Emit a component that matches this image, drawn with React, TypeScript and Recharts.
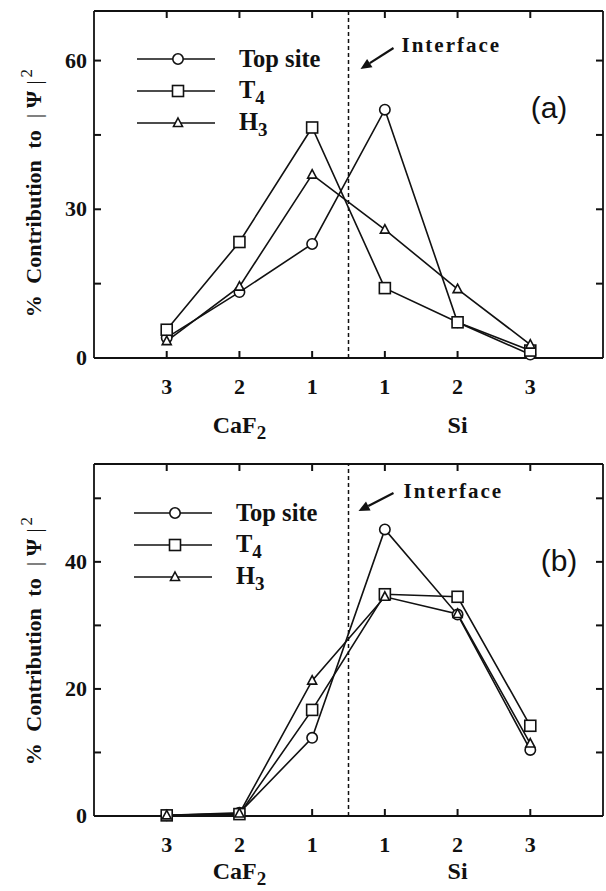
import React from 'react';
import { LineChart, Line, XAxis, YAxis, ReferenceLine, Legend } from 'recharts';

// layer positions along the slab, CaF2 side then Si side
const positions = [0, 1, 2, 3, 4, 5];
const layerLabels = ['3', '2', '1', '1', '2', '3'];
const groupLabels = [
  { at: 1, base: 'CaF', sub: '2' },
  { at: 4, base: 'Si', sub: '' },
];
const interfacePos = 2.5;
const xDomain = [-1, 6];

// panel (a)
const topSiteA = [4.1, 13.3, 23.0, 50.1, 7.2, 0.7];
const t4A = [5.7, 23.4, 46.5, 14.1, 7.2, 1.5];
const h3A = [3.4, 14.4, 37.0, 25.9, 13.9, 2.7];
const yTicksA = [0, 15, 30, 45, 60];
const yLabelsA = [0, 30, 60];

// panel (b)
const topSiteB = [0.1, 0.5, 12.3, 45.1, 31.7, 10.4];
const t4B = [0.1, 0.3, 16.7, 34.9, 34.5, 14.2];
const h3B = [0.1, 0.4, 21.3, 34.5, 31.8, 11.4];
const yTicksB = [0, 10, 20, 30, 40, 50];
const yLabelsB = [0, 20, 40];

const series = [
  { key: 'top', base: 'Top site', sub: '', shape: 'circle' },
  { key: 't4', base: 'T', sub: '4', shape: 'square' },
  { key: 'h3', base: 'H', sub: '3', shape: 'triangle' },
];

const SERIF = '"Liberation Serif", "Times New Roman", serif';
const INK = '#111';
const W = 606;
const LEFT_W = 94;
const RIGHT_W = 3;
const TICK_PX = 7;

function buildRows(top: number[], t4: number[], h3: number[]) {
  return positions.map((pos, i) => ({ pos, top: top[i], t4: t4[i], h3: h3[i] }));
}

function Marker({ shape, cx, cy }: { shape: string; cx: number; cy: number }) {
  if (cx == null || cy == null) return <g />;
  if (shape === 'circle')
    return <circle cx={cx} cy={cy} r={5.2} fill="#fff" stroke={INK} strokeWidth={1.6} />;
  if (shape === 'square')
    return <rect x={cx - 5.5} y={cy - 5.5} width={11} height={11} fill="#fff" stroke={INK} strokeWidth={1.6} />;
  return (
    <polygon
      points={`${cx},${cy - 5} ${cx + 4.5},${cy + 3.5} ${cx - 4.5},${cy + 3.5}`}
      fill="#fff"
      stroke={INK}
      strokeWidth={1.6}
    />
  );
}

function LeftTick(props: any) {
  const { x, y, payload, labels } = props;
  if (!labels.includes(payload.value)) return <g />;
  return (
    <text x={x - 7} y={y + 7} textAnchor="end" fontFamily={SERIF} fontWeight="bold" fontSize={22} fill={INK}>
      {payload.value}
    </text>
  );
}

function BottomTick(props: any) {
  const { x, y, payload, groupDy } = props;
  const i = payload.value;
  const group = groupLabels.find((g) => g.at === i);
  return (
    <g>
      <text x={x} y={y + 36} textAnchor="middle" fontFamily={SERIF} fontWeight="bold" fontSize={22} fill={INK}>
        {layerLabels[i]}
      </text>
      {group && (
        <text x={x} y={y + groupDy} textAnchor="middle" fontFamily={SERIF} fontWeight="bold" fontSize={24} fill={INK}>
          {group.base}
          {group.sub && (
            <tspan dy={6} fontSize={19}>
              {group.sub}
            </tspan>
          )}
        </text>
      )}
    </g>
  );
}

function YLabel({ cy }: { cy: number }) {
  return (
    <text
      transform={`rotate(-90 41 ${cy})`}
      x={41}
      y={cy}
      textAnchor="middle"
      fontFamily={SERIF}
      fontWeight="bold"
      fontSize={22}
      fill={INK}
      style={{ wordSpacing: 6 }}
    >
      <tspan>% Contribution to</tspan>
      <tspan dx={12} fontWeight="normal">|</tspan>
      <tspan dx={6}>Ψ</tspan>
      <tspan dx={6} fontWeight="normal">|</tspan>
      <tspan dx={3} dy={-9} fontSize={17} fontWeight="normal">2</tspan>
    </text>
  );
}

function InterfaceMark(props: any) {
  const { viewBox, arrow } = props;
  if (!viewBox) return null;
  const { x, y } = viewBox;
  const [tx, ty] = [x + arrow.tip[0], y + arrow.tip[1]];
  const [sx, sy] = [x + arrow.tail[0], y + arrow.tail[1]];
  const ang = Math.atan2(ty - sy, tx - sx);
  const hl = 11;
  const hw = 5;
  const bx = tx - hl * Math.cos(ang);
  const by = ty - hl * Math.sin(ang);
  const px = -Math.sin(ang) * hw;
  const py = Math.cos(ang) * hw;
  return (
    <g>
      <line x1={sx} y1={sy} x2={bx} y2={by} stroke={INK} strokeWidth={2.2} />
      <polygon points={`${tx},${ty} ${bx + px},${by + py} ${bx - px},${by - py}`} fill={INK} />
      <text
        x={x + arrow.text[0]}
        y={y + arrow.text[1]}
        fontFamily={SERIF}
        fontWeight="bold"
        fontSize={21}
        letterSpacing={2}
        fill={INK}
      >
        Interface
      </text>
    </g>
  );
}

function LegendBox() {
  return (
    <div style={{ fontFamily: SERIF, fontWeight: 'bold', color: INK }}>
      {series.map((s) => (
        <div key={s.key} style={{ display: 'flex', alignItems: 'center', height: 32 }}>
          <svg width={78} height={32} style={{ display: 'block' }}>
            <line x1={0} y1={16} x2={78} y2={16} stroke={INK} strokeWidth={1.6} />
            <Marker shape={s.shape} cx={41} cy={16} />
          </svg>
          <span style={{ marginLeft: 24, fontSize: 24.5, lineHeight: '32px', whiteSpace: 'nowrap' }}>
            {s.base}
            {s.sub && <span style={{ fontSize: 19, position: 'relative', top: 6 }}>{s.sub}</span>}
          </span>
        </div>
      ))}
    </div>
  );
}

interface PanelProps {
  rows: any[];
  yMax: number;
  yTicks: number[];
  yLabels: number[];
  height: number;
  plotTop: number;
  xAxisHeight: number;
  groupDy: number;
  legendLeft: number;
  legendTop: number;
  arrow: { tail: number[]; tip: number[]; text: number[] };
  tag: string;
  tagX: number;
  tagY: number;
  yLabelCy: number;
}

function Panel(p: PanelProps) {
  // inward tick marks as short reference segments (length given in px, converted to data units)
  const dx = (TICK_PX * (xDomain[1] - xDomain[0])) / (W - LEFT_W - RIGHT_W);
  const dy = (TICK_PX * p.yMax) / (p.height - p.plotTop - p.xAxisHeight);
  const tickSegs: any[] = [];
  p.yTicks.forEach((v) => {
    tickSegs.push([{ x: xDomain[0], y: v }, { x: xDomain[0] + dx, y: v }]);
    tickSegs.push([{ x: xDomain[1] - dx, y: v }, { x: xDomain[1], y: v }]);
  });
  positions.forEach((pos) => {
    tickSegs.push([{ x: pos, y: 0 }, { x: pos, y: dy }]);
    tickSegs.push([{ x: pos, y: p.yMax - dy }, { x: pos, y: p.yMax }]);
  });

  return (
    <div style={{ position: 'relative', width: W, height: p.height }}>
      <LineChart width={W} height={p.height} data={p.rows} margin={{ top: 0, right: 0, bottom: 0, left: 0 }}>
        <XAxis
          xAxisId="b"
          dataKey="pos"
          type="number"
          domain={xDomain}
          ticks={positions}
          interval={0}
          height={p.xAxisHeight}
          stroke={INK}
          strokeWidth={1.8}
          tickLine={false}
          tickSize={0}
          tickMargin={0}
          tick={(tp: any) => <BottomTick {...tp} groupDy={p.groupDy} />}
        />
        <XAxis
          xAxisId="t"
          orientation="top"
          dataKey="pos"
          type="number"
          domain={xDomain}
          ticks={positions}
          height={p.plotTop}
          stroke={INK}
          strokeWidth={1.8}
          tickLine={false}
          tick={false}
        />
        <YAxis
          yAxisId="l"
          type="number"
          domain={[0, p.yMax]}
          ticks={p.yTicks}
          interval={0}
          width={LEFT_W}
          stroke={INK}
          strokeWidth={1.8}
          tickLine={false}
          tickSize={0}
          tickMargin={0}
          tick={(tp: any) => <LeftTick {...tp} labels={p.yLabels} />}
          label={{ content: () => <YLabel cy={p.yLabelCy} /> }}
        />
        <YAxis
          yAxisId="r"
          orientation="right"
          type="number"
          domain={[0, p.yMax]}
          ticks={p.yTicks}
          width={RIGHT_W}
          stroke={INK}
          strokeWidth={1.8}
          tickLine={false}
          tick={false}
        />
        {tickSegs.map((seg, i) => (
          <ReferenceLine
            key={`tk-${i}`}
            xAxisId="b"
            yAxisId="l"
            segment={seg}
            stroke={INK}
            strokeWidth={2}
          />
        ))}
        <ReferenceLine
          xAxisId="b"
          yAxisId="l"
          x={interfacePos}
          stroke={INK}
          strokeWidth={1.5}
          strokeDasharray="4 3"
          label={{ content: (lp: any) => <InterfaceMark {...lp} arrow={p.arrow} /> }}
        />
        {series.map((s) => (
          <Line
            key={s.key}
            xAxisId="b"
            yAxisId="l"
            type="linear"
            dataKey={s.key}
            name={s.base + s.sub}
            stroke={INK}
            strokeWidth={1.6}
            isAnimationActive={false}
            dot={(dp: any) => <Marker key={`${s.key}-${dp.index}`} shape={s.shape} cx={dp.cx} cy={dp.cy} />}
            activeDot={false}
          />
        ))}
        <Legend
          layout="vertical"
          align="center"
          verticalAlign="middle"
          content={() => <LegendBox />}
          wrapperStyle={{ left: p.legendLeft, top: p.legendTop, width: 240 }}
        />
      </LineChart>
      <div
        style={{
          position: 'absolute',
          left: p.tagX - 30,
          width: 60,
          top: p.tagY - 18,
          textAlign: 'center',
          fontFamily: '"Liberation Sans", Arial, sans-serif',
          fontSize: 30,
          lineHeight: '36px',
          color: INK,
        }}
      >
        {p.tag}
      </div>
    </div>
  );
}

export default function App() {
  return (
    <div style={{ position: 'absolute', left: 0, top: 0, width: W, height: 891, background: '#fff' }}>
      <Panel
        rows={buildRows(topSiteA, t4A, h3A)}
        yMax={70}
        yTicks={yTicksA}
        yLabels={yLabelsA}
        height={445}
        plotTop={11}
        xAxisHeight={87}
        groupDy={75}
        legendLeft={137}
        legendTop={43}
        arrow={{ tail: [45, 37], tip: [12, 58], text: [53, 41] }}
        tag="(a)"
        tagX={549}
        tagY={108}
        yLabelCy={193}
      />
      <Panel
        rows={buildRows(topSiteB, t4B, h3B)}
        yMax={55.4}
        yTicks={yTicksB}
        yLabels={yLabelsB}
        height={446}
        plotTop={19}
        xAxisHeight={75}
        groupDy={63}
        legendLeft={134}
        legendTop={52}
        arrow={{ tail: [45, 29], tip: [10, 47], text: [55, 34] }}
        tag="(b)"
        tagX={559}
        tagY={116}
        yLabelCy={196}
      />
    </div>
  );
}
